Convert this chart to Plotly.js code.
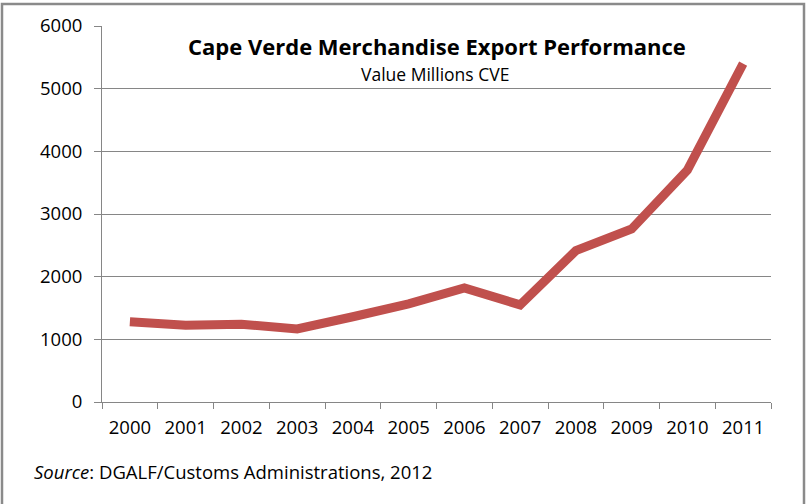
<!DOCTYPE html>
<html>
<head>
<meta charset="utf-8">
<script src="https://cdn.plot.ly/plotly-3.0.1.min.js"></script>
<style>html,body{margin:0;padding:0;background:#fff;}#chart{width:809px;height:504px;}</style>
</head>
<body>
<div id="chart"></div>
<script>
const years = ["2000","2001","2002","2003","2004","2005","2006","2007","2008","2009","2010","2011"];
const exportValues = [1280, 1225, 1240, 1165, 1360, 1565, 1820, 1550, 2415, 2760, 3700, 5400];
const yTickValues = [0, 1000, 2000, 3000, 4000, 5000, 6000];
const titleText = "<b>Cape Verde Merchandise Export Performance</b>";
const subtitleText = "Value Millions CVE";
const sourceText = "<i>Source</i>: DGALF/Customs Administrations, 2012";

const FONT = "Open Sans, Lato, sans-serif";
const W = 809, H = 504, L = 102, R = 38, T = 26, B = 102;
const pw = W - L - R, ph = H - T - B;
const px = x => (x - L) / pw;
const py = y => (H - B - y) / ph;

const trace = {
  x: years,
  y: exportValues,
  type: "scatter",
  mode: "lines",
  line: {color: "#C0504D", width: 9},
  hoverinfo: "x+y"
};

const layout = {
  width: W, height: H,
  margin: {l: L, r: R, t: T, b: B, pad: 0},
  paper_bgcolor: "#ffffff",
  plot_bgcolor: "#ffffff",
  showlegend: false,
  font: {family: FONT, color: "#000"},
  xaxis: {
    type: "category",
    range: [-0.5, 11.5],
    tickson: "boundaries",
    ticks: "outside", ticklen: 6, tickcolor: "#868686", tickwidth: 1,
    showline: true, linecolor: "#868686", linewidth: 1,
    showgrid: false, zeroline: false,
    tickfont: {family: FONT, size: 18.5, color: "#000"},
    ticklabelstandoff: 9
  },
  yaxis: {
    range: [0, 6000],
    tickvals: yTickValues,
    ticktext: yTickValues.map(String),
    ticks: "outside", ticklen: 7, tickcolor: "#868686", tickwidth: 1,
    showline: true, linecolor: "#868686", linewidth: 1,
    showgrid: true, gridcolor: "#868686", gridwidth: 1,
    zeroline: false,
    tickfont: {family: FONT, size: 18.5, color: "#000"},
    ticklabelstandoff: 8
  },
  annotations: [
    {text: titleText, xref: "paper", yref: "paper", x: px(437), y: py(46),
     xanchor: "center", yanchor: "middle", showarrow: false,
     font: {family: FONT, size: 22, color: "#000"}},
    {text: subtitleText, xref: "paper", yref: "paper", x: px(435), y: py(74),
     xanchor: "center", yanchor: "middle", showarrow: false,
     font: {family: FONT, size: 17.5, color: "#000"}},
    {text: sourceText, xref: "paper", yref: "paper", x: px(32), y: py(471),
     xanchor: "left", yanchor: "middle", showarrow: false,
     font: {family: FONT, size: 18.5, color: "#000"}}
  ],
  shapes: [
    {type: "rect", xref: "paper", yref: "paper",
     x0: px(2), x1: px(804), y0: py(520), y1: py(4),
     line: {color: "#8a8a8a", width: 2.5}, layer: "above"}
  ]
};

Plotly.newPlot("chart", [trace], layout, {displayModeBar: false, staticPlot: true});
</script>
</body>
</html>
